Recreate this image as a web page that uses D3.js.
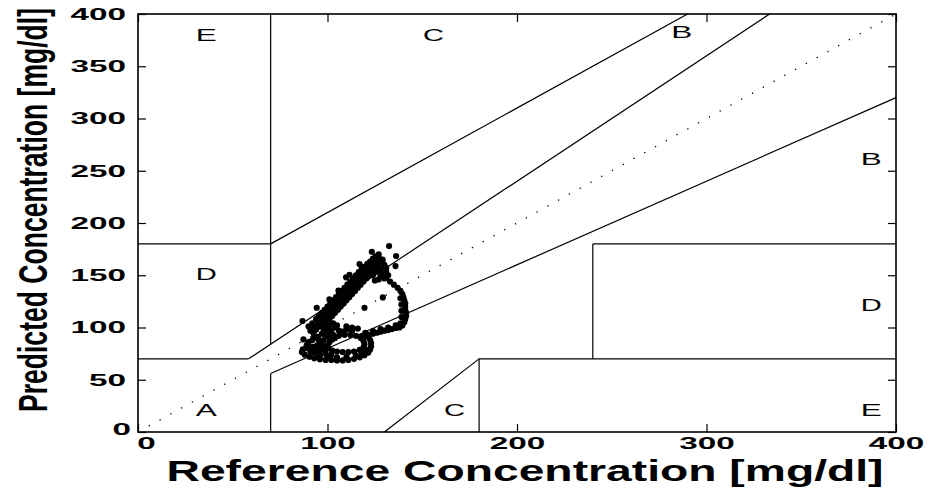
<!DOCTYPE html>
<html>
<head>
<meta charset="utf-8">
<script src="https://cdn.jsdelivr.net/npm/d3@7"></script>
<style>
  body { margin: 0; background: #fff; }
  svg { display: block; }
</style>
</head>
<body>
<svg id="chart" width="933" height="491"></svg>
<script>
// Axis ticks
const xTicks = [0, 100, 200, 300, 400];
const yTicks = [0, 50, 100, 150, 200, 250, 300, 350, 400];

// Clarke error grid zone boundaries, [reference, predicted] end points
const zoneBoundaries = [
  [[0, 70], [175 / 3, 70]],
  [[175 / 3, 70], [400 / 1.2, 400]],
  [[70, 84], [70, 400]],
  [[0, 180], [70, 180]],
  [[70, 180], [290, 400]],
  [[70, 0], [70, 56]],
  [[70, 56], [400, 320]],
  [[180, 0], [180, 70]],
  [[180, 70], [400, 70]],
  [[240, 70], [240, 180]],
  [[240, 180], [400, 180]],
  [[130, 0], [180, 70]]
];

// Zone letters, placed at [reference, predicted]
const zoneNames = ["E", "C", "B", "B", "D", "D", "A", "C", "E"];
const zoneRef   = [36, 156, 287, 387, 36, 387, 36, 167, 387];
const zonePred  = [379, 379, 382, 261, 151, 121, 21, 21, 21];

// Paired readings: reference vs predicted concentration [mg/dl]
const referenceValues = [
  // upper arm, outer edge
  94,95.5,97,98.5,100,101.5,103,104.5,106,107.5,109,110.5,112,113.5,115,116.5,118,119.5,121,122.5,124,125.5,127,
  95.75,97.25,98.75,100.25,101.75,103.25,104.75,106.25,107.75,109.25,110.75,112.25,113.75,115.25,116.75,118.25,119.75,121.25,122.75,124.25,
  // upper arm, middle
  96,97.5,99,100.5,102,103.5,105,106.5,108,109.5,111,112.5,114,115.5,117,118.5,120,121.5,123,124.5,126,
  97.75,99.25,100.75,102.25,103.75,105.25,106.75,108.25,109.75,111.25,112.75,114.25,115.75,117.25,118.75,120.25,121.75,123.25,124.75,126.25,
  // upper arm, inner edge
  98,99.5,101,102.5,104,105.5,107,108.5,110,111.5,113,114.5,116,117.5,119,120.5,122,123.5,125,126.5,128,129,
  // arm joining the lower loop
  92,90,91,93,95,
  // peak
  127,129,130,131,128,131,125,122,124,126,128,127,124,130,132,125,
  // right lobe
  129,131,133,135,137,138.5,139.5,140,140.5,141,141,141,141.5,141.5,141,140.5,139.5,
  138.5,139,139,139,138.5,
  138,136,134,132,130,128,126,124,122,120,118,
  136,132,128,124,120,
  // lower loop, outer ring
  96,94,92.5,93,95,96,94.5,92,89,87,86.5,88,90.5,93,96,99,102,105,108,111,114,117,119.5,121.5,122.5,123,123,122.5,121.5,
  // lower loop, inner ring
  104,106,109,112,115,117.5,119,119.5,119,117,114,111,108,105,102.5,100.5,100,101,102.5,
  // lower loop, filled part
  98,100,102,99,101,98,97,98.5,96,93,99,102,96,91,104,106,103,108,110,113,110,113,116,
  90,92,89,91,94,97,95,97,100,103,101,105,
  95,100,105,110,115,118,120,
  // isolated readings
  132.5,123.4,136.2,116.9,135.9,111.6,109.8,105.8,101,94.3,119.5,86.8,87.3,129.2
];
const predictedValues = [
  108,111,114,117,120,123,126,129,132,135,138,141,144,147,150,153,156,158,161,163,166,168,170,
  108,111,114,117,120,123,126,129,132,135,138,141,144,147,150,153,156,159,162,165,
  105,108,111,114,117,120,123,126,129,132,135,138,141,144,147,150,153,156,159,162,165,
  105,108,111,114,117,120,123,126,129,132,135,138,141,144,147,150,153,156,159,162,
  102,105,108,111,114,117,120,123,126,129,132,135,138,141,144,147,150,153,156,159,162,165,
  104,101,97,100,103,
  167,164,160,157,156,153,160,160,157,154,150,146,150,147,150,145,
  152,148,144,141,138,135,132,129,126,123,120,117,114,111,108,105,102,
  128,122,116,110,104,
  100,99.5,98.5,97.5,97,96,95,94,93,92,91.5,
  102,100,98.5,96.5,95,
  101,98,95,92,89,86,83,81.5,80.5,79,76.5,74,72,70.5,69.5,69,69,68.5,68.5,69,70,71.5,73.5,76,79,82,85,88,91,
  90,92,93,93,92,90,87,84,81,78.5,77,76.5,76.5,77,78,80,83,86,88.5,
  98,95,97,92,90,88,84,80,77,76,75,74,73,77,100,97,93,96,98,97,101,100,99,
  86,88,83,79,79,81,91,94,99,104,102,102,
  72,72,71.5,72,73,76,79,
  178,172.5,168.4,160.7,158.8,150.5,148,135.2,126.9,118.9,118.9,106.2,88.6,128.8
];

const svg = d3.select("#chart");
const x = d3.scaleLinear().domain([0, 400]).range([138, 896]);
const y = d3.scaleLinear().domain([0, 400]).range([432, 14]);

const font = "'Liberation Sans', Arial, Helvetica, sans-serif";

// identity diagonal (dotted)
svg.append("line")
  .attr("x1", x(0)).attr("y1", y(0)).attr("x2", x(400)).attr("y2", y(400))
  .attr("stroke", "#000").attr("stroke-width", 1.3)
  .attr("stroke-dasharray", "1.3 11");

// zone boundaries
svg.append("g").selectAll("line").data(zoneBoundaries).join("line")
  .attr("x1", d => x(d[0][0])).attr("y1", d => y(d[0][1]))
  .attr("x2", d => x(d[1][0])).attr("y2", d => y(d[1][1]))
  .attr("stroke", "#000").attr("stroke-width", 1.2);

// zone letters
svg.append("g").selectAll("text").data(zoneNames).join("text")
  .attr("x", (d, i) => x(zoneRef[i])).attr("y", (d, i) => y(zonePred[i]))
  .attr("text-anchor", "middle").attr("dominant-baseline", "central")
  .attr("font-family", font).attr("font-size", 17)
  .attr("textLength", 21).attr("lengthAdjust", "spacingAndGlyphs")
  .text(d => d);

// readings
svg.append("g").selectAll("circle").data(referenceValues).join("circle")
  .attr("cx", d => x(d)).attr("cy", (d, i) => y(predictedValues[i]))
  .attr("r", 3.1).attr("fill", "#000");

// axes with inward ticks
function styleLabels(g) {
  g.select(".domain").remove();
  g.selectAll(".tick line").attr("stroke", "#000").attr("stroke-width", 1.2);
  g.selectAll("text")
    .attr("font-family", font).attr("font-weight", "bold").attr("font-size", 17)
    .attr("fill", "#000")
    .attr("textLength", function () { return this.textContent.length * 18.5; })
    .attr("lengthAdjust", "spacingAndGlyphs");
}
const fmt = d3.format("d");
const xAxisG = svg.append("g").attr("transform", `translate(0,${y(0)})`)
  .call(d3.axisBottom(x).tickValues(xTicks).tickSize(-8).tickPadding(5).tickFormat(fmt))
  .call(styleLabels);
svg.append("g").attr("transform", `translate(0,${y(400)})`)
  .call(d3.axisTop(x).tickValues(xTicks).tickSize(-8).tickFormat(""))
  .call(styleLabels);
const yAxisG = svg.append("g").attr("transform", `translate(${x(0)},0)`)
  .call(d3.axisLeft(y).tickValues(yTicks).tickSize(-8).tickPadding(12).tickFormat(fmt))
  .call(styleLabels);
svg.append("g").attr("transform", `translate(${x(400)},0)`)
  .call(d3.axisRight(y).tickValues(yTicks).tickSize(-8).tickFormat(""))
  .call(styleLabels);

// keep the two zero labels apart at the origin
xAxisG.selectAll(".tick").filter(d => d === 0).select("text").attr("dx", 8);
yAxisG.selectAll(".tick").filter(d => d === 0).select("text").attr("dx", 5).attr("y", -3);

// frame
svg.append("rect")
  .attr("x", x(0)).attr("y", y(400))
  .attr("width", x(400) - x(0)).attr("height", y(0) - y(400))
  .attr("fill", "none").attr("stroke", "#000").attr("stroke-width", 1.6);

// axis titles
svg.append("text")
  .attr("x", 525).attr("y", 481)
  .attr("text-anchor", "middle")
  .attr("font-family", font).attr("font-weight", "bold").attr("font-size", 30)
  .attr("textLength", 717).attr("lengthAdjust", "spacingAndGlyphs")
  .text("Reference Concentration [mg/dl]");

svg.append("text")
  .attr("transform", "translate(47,210) scale(1.6,1) rotate(-90)")
  .attr("text-anchor", "middle")
  .attr("font-family", font).attr("font-weight", "bold").attr("font-size", 25)
  .attr("textLength", 404).attr("lengthAdjust", "spacingAndGlyphs")
  .text("Predicted Concentration [mg/dl]");
</script>
</body>
</html>
